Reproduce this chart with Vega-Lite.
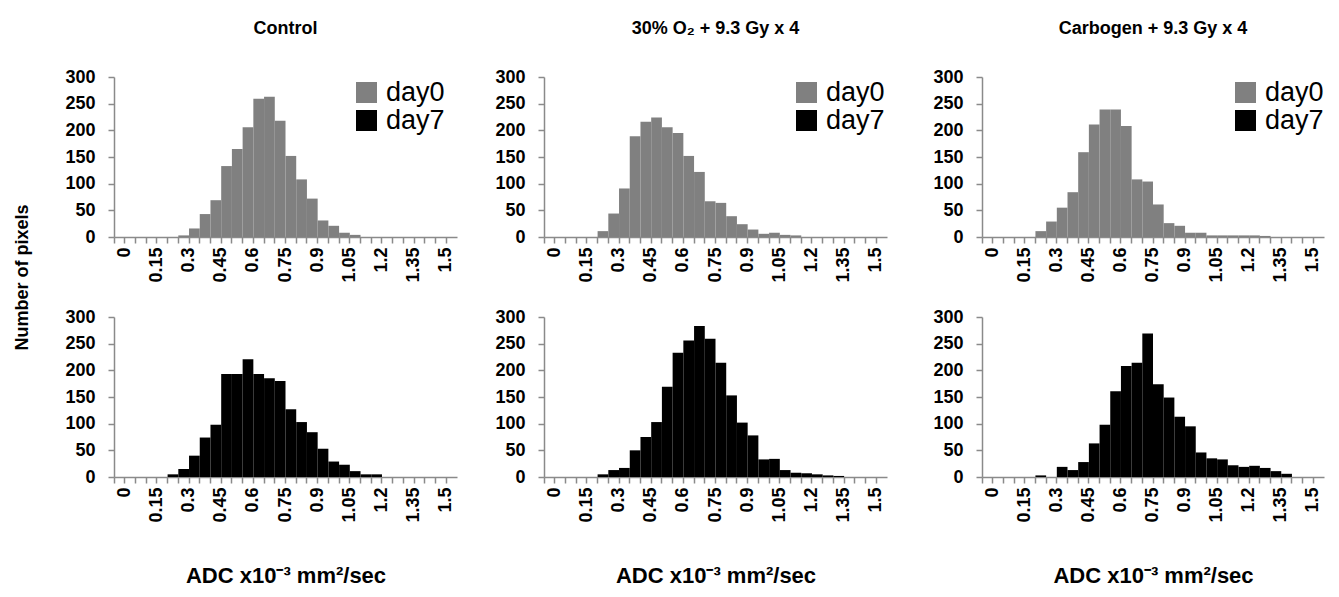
{
  "$schema": "https://vega.github.io/schema/vega-lite/v6.json",
  "padding": {"left": 13, "top": 20, "right": 5, "bottom": 2},
  "background": "white",
  "datasets": {
    "hist": [
      {"group": "Control", "day": "day0", "adc": 0.3, "pixels": 3},
      {"group": "Control", "day": "day0", "adc": 0.35, "pixels": 16},
      {"group": "Control", "day": "day0", "adc": 0.4, "pixels": 43},
      {"group": "Control", "day": "day0", "adc": 0.45, "pixels": 69},
      {"group": "Control", "day": "day0", "adc": 0.5, "pixels": 133},
      {"group": "Control", "day": "day0", "adc": 0.55, "pixels": 165},
      {"group": "Control", "day": "day0", "adc": 0.6, "pixels": 206},
      {"group": "Control", "day": "day0", "adc": 0.65, "pixels": 259},
      {"group": "Control", "day": "day0", "adc": 0.7, "pixels": 263},
      {"group": "Control", "day": "day0", "adc": 0.75, "pixels": 218},
      {"group": "Control", "day": "day0", "adc": 0.8, "pixels": 152},
      {"group": "Control", "day": "day0", "adc": 0.85, "pixels": 108},
      {"group": "Control", "day": "day0", "adc": 0.9, "pixels": 72},
      {"group": "Control", "day": "day0", "adc": 0.95, "pixels": 31},
      {"group": "Control", "day": "day0", "adc": 1, "pixels": 21},
      {"group": "Control", "day": "day0", "adc": 1.05, "pixels": 8},
      {"group": "Control", "day": "day0", "adc": 1.1, "pixels": 4},

      {"group": "O2", "day": "day0", "adc": 0.25, "pixels": 11},
      {"group": "O2", "day": "day0", "adc": 0.3, "pixels": 44},
      {"group": "O2", "day": "day0", "adc": 0.35, "pixels": 91},
      {"group": "O2", "day": "day0", "adc": 0.4, "pixels": 189},
      {"group": "O2", "day": "day0", "adc": 0.45, "pixels": 216},
      {"group": "O2", "day": "day0", "adc": 0.5, "pixels": 224},
      {"group": "O2", "day": "day0", "adc": 0.55, "pixels": 206},
      {"group": "O2", "day": "day0", "adc": 0.6, "pixels": 195},
      {"group": "O2", "day": "day0", "adc": 0.65, "pixels": 152},
      {"group": "O2", "day": "day0", "adc": 0.7, "pixels": 122},
      {"group": "O2", "day": "day0", "adc": 0.75, "pixels": 67},
      {"group": "O2", "day": "day0", "adc": 0.8, "pixels": 64},
      {"group": "O2", "day": "day0", "adc": 0.85, "pixels": 39},
      {"group": "O2", "day": "day0", "adc": 0.9, "pixels": 24},
      {"group": "O2", "day": "day0", "adc": 0.95, "pixels": 14},
      {"group": "O2", "day": "day0", "adc": 1, "pixels": 6},
      {"group": "O2", "day": "day0", "adc": 1.05, "pixels": 8},
      {"group": "O2", "day": "day0", "adc": 1.1, "pixels": 4},
      {"group": "O2", "day": "day0", "adc": 1.15, "pixels": 3},

      {"group": "Carbogen", "day": "day0", "adc": 0.25, "pixels": 11},
      {"group": "Carbogen", "day": "day0", "adc": 0.3, "pixels": 29},
      {"group": "Carbogen", "day": "day0", "adc": 0.35, "pixels": 55},
      {"group": "Carbogen", "day": "day0", "adc": 0.4, "pixels": 84},
      {"group": "Carbogen", "day": "day0", "adc": 0.45, "pixels": 159},
      {"group": "Carbogen", "day": "day0", "adc": 0.5, "pixels": 211},
      {"group": "Carbogen", "day": "day0", "adc": 0.55, "pixels": 239},
      {"group": "Carbogen", "day": "day0", "adc": 0.6, "pixels": 239},
      {"group": "Carbogen", "day": "day0", "adc": 0.65, "pixels": 208},
      {"group": "Carbogen", "day": "day0", "adc": 0.7, "pixels": 108},
      {"group": "Carbogen", "day": "day0", "adc": 0.75, "pixels": 104},
      {"group": "Carbogen", "day": "day0", "adc": 0.8, "pixels": 61},
      {"group": "Carbogen", "day": "day0", "adc": 0.85, "pixels": 26},
      {"group": "Carbogen", "day": "day0", "adc": 0.9, "pixels": 21},
      {"group": "Carbogen", "day": "day0", "adc": 0.95, "pixels": 8},
      {"group": "Carbogen", "day": "day0", "adc": 1, "pixels": 8},
      {"group": "Carbogen", "day": "day0", "adc": 1.05, "pixels": 3},
      {"group": "Carbogen", "day": "day0", "adc": 1.1, "pixels": 3},
      {"group": "Carbogen", "day": "day0", "adc": 1.15, "pixels": 3},
      {"group": "Carbogen", "day": "day0", "adc": 1.2, "pixels": 3},
      {"group": "Carbogen", "day": "day0", "adc": 1.25, "pixels": 3},
      {"group": "Carbogen", "day": "day0", "adc": 1.3, "pixels": 2},

      {"group": "Control", "day": "day7", "adc": 0.25, "pixels": 5},
      {"group": "Control", "day": "day7", "adc": 0.3, "pixels": 15},
      {"group": "Control", "day": "day7", "adc": 0.35, "pixels": 40},
      {"group": "Control", "day": "day7", "adc": 0.4, "pixels": 74},
      {"group": "Control", "day": "day7", "adc": 0.45, "pixels": 98},
      {"group": "Control", "day": "day7", "adc": 0.5, "pixels": 193},
      {"group": "Control", "day": "day7", "adc": 0.55, "pixels": 193},
      {"group": "Control", "day": "day7", "adc": 0.6, "pixels": 221},
      {"group": "Control", "day": "day7", "adc": 0.65, "pixels": 193},
      {"group": "Control", "day": "day7", "adc": 0.7, "pixels": 185},
      {"group": "Control", "day": "day7", "adc": 0.75, "pixels": 180},
      {"group": "Control", "day": "day7", "adc": 0.8, "pixels": 127},
      {"group": "Control", "day": "day7", "adc": 0.85, "pixels": 103},
      {"group": "Control", "day": "day7", "adc": 0.9, "pixels": 84},
      {"group": "Control", "day": "day7", "adc": 0.95, "pixels": 53},
      {"group": "Control", "day": "day7", "adc": 1, "pixels": 29},
      {"group": "Control", "day": "day7", "adc": 1.05, "pixels": 23},
      {"group": "Control", "day": "day7", "adc": 1.1, "pixels": 11},
      {"group": "Control", "day": "day7", "adc": 1.15, "pixels": 5},
      {"group": "Control", "day": "day7", "adc": 1.2, "pixels": 5},

      {"group": "O2", "day": "day7", "adc": 0.25, "pixels": 5},
      {"group": "O2", "day": "day7", "adc": 0.3, "pixels": 13},
      {"group": "O2", "day": "day7", "adc": 0.35, "pixels": 17},
      {"group": "O2", "day": "day7", "adc": 0.4, "pixels": 50},
      {"group": "O2", "day": "day7", "adc": 0.45, "pixels": 75},
      {"group": "O2", "day": "day7", "adc": 0.5, "pixels": 103},
      {"group": "O2", "day": "day7", "adc": 0.55, "pixels": 169},
      {"group": "O2", "day": "day7", "adc": 0.6, "pixels": 233},
      {"group": "O2", "day": "day7", "adc": 0.65, "pixels": 256},
      {"group": "O2", "day": "day7", "adc": 0.7, "pixels": 283},
      {"group": "O2", "day": "day7", "adc": 0.75, "pixels": 259},
      {"group": "O2", "day": "day7", "adc": 0.8, "pixels": 214},
      {"group": "O2", "day": "day7", "adc": 0.85, "pixels": 153},
      {"group": "O2", "day": "day7", "adc": 0.9, "pixels": 102},
      {"group": "O2", "day": "day7", "adc": 0.95, "pixels": 78},
      {"group": "O2", "day": "day7", "adc": 1, "pixels": 33},
      {"group": "O2", "day": "day7", "adc": 1.05, "pixels": 34},
      {"group": "O2", "day": "day7", "adc": 1.1, "pixels": 13},
      {"group": "O2", "day": "day7", "adc": 1.15, "pixels": 8},
      {"group": "O2", "day": "day7", "adc": 1.2, "pixels": 7},
      {"group": "O2", "day": "day7", "adc": 1.25, "pixels": 5},
      {"group": "O2", "day": "day7", "adc": 1.3, "pixels": 3},
      {"group": "O2", "day": "day7", "adc": 1.35, "pixels": 2},

      {"group": "Carbogen", "day": "day7", "adc": 0.25, "pixels": 3},
      {"group": "Carbogen", "day": "day7", "adc": 0.35, "pixels": 19},
      {"group": "Carbogen", "day": "day7", "adc": 0.4, "pixels": 13},
      {"group": "Carbogen", "day": "day7", "adc": 0.45, "pixels": 28},
      {"group": "Carbogen", "day": "day7", "adc": 0.5, "pixels": 63},
      {"group": "Carbogen", "day": "day7", "adc": 0.55, "pixels": 98},
      {"group": "Carbogen", "day": "day7", "adc": 0.6, "pixels": 161},
      {"group": "Carbogen", "day": "day7", "adc": 0.65, "pixels": 208},
      {"group": "Carbogen", "day": "day7", "adc": 0.7, "pixels": 214},
      {"group": "Carbogen", "day": "day7", "adc": 0.75, "pixels": 269},
      {"group": "Carbogen", "day": "day7", "adc": 0.8, "pixels": 174},
      {"group": "Carbogen", "day": "day7", "adc": 0.85, "pixels": 149},
      {"group": "Carbogen", "day": "day7", "adc": 0.9, "pixels": 113},
      {"group": "Carbogen", "day": "day7", "adc": 0.95, "pixels": 95},
      {"group": "Carbogen", "day": "day7", "adc": 1, "pixels": 46},
      {"group": "Carbogen", "day": "day7", "adc": 1.05, "pixels": 35},
      {"group": "Carbogen", "day": "day7", "adc": 1.1, "pixels": 33},
      {"group": "Carbogen", "day": "day7", "adc": 1.15, "pixels": 22},
      {"group": "Carbogen", "day": "day7", "adc": 1.2, "pixels": 19},
      {"group": "Carbogen", "day": "day7", "adc": 1.25, "pixels": 21},
      {"group": "Carbogen", "day": "day7", "adc": 1.3, "pixels": 17},
      {"group": "Carbogen", "day": "day7", "adc": 1.35, "pixels": 11},
      {"group": "Carbogen", "day": "day7", "adc": 1.4, "pixels": 6}
    ]
  },
  "data": {"name": "hist"},
  "spacing": 36,
  "hconcat": [
    {
      "spacing": 28,
      "hconcat": [
        {
          "bounds": "flush",
          "spacing": 80,
          "vconcat": [
            {
              "width": 343, "height": 160,
              "title": "Control",
              "transform": [{"filter": "datum.group === 'Control' && datum.day === 'day0'"}],
              "mark": {"type": "bar", "strokeWidth": 0},
              "encoding": {
                "x": {"field": "adc", "type": "ordinal",
                      "scale": {"domain": [0,0.05,0.1,0.15,0.2,0.25,0.3,0.35,0.4,0.45,0.5,0.55,0.6,0.65,0.7,0.75,0.8,0.85,0.9,0.95,1,1.05,1.1,1.15,1.2,1.25,1.3,1.35,1.4,1.45,1.5,1.55], "paddingInner": 0, "paddingOuter": 0},
                      "axis": {"title": null, "labelAngle": -90, "labelOverlap": false, "bandPosition": 0, "labelOffset": 5.4, "labelExpr": "round(datum.value*100) % 15 === 0 ? datum.label : ''"}},
                "y": {"field": "pixels", "type": "quantitative", "scale": {"domain": [0, 300]},
                      "axis": {"values": [0,50,100,150,200,250,300], "title": "Number of pixels", "titleY": 200, "titleX": -83, "titleFontSize": 18}},
                "color": {"field": "day", "type": "nominal", "scale": {"domain": ["day0", "day7"], "range": ["#808080", "#000000"]},
                          "legend": {"orient": "none", "legendX": 239, "legendY": 2}}
              }
            },
            {
              "width": 343, "height": 160,
              "transform": [{"filter": "datum.group === 'Control' && datum.day === 'day7'"}],
              "mark": {"type": "bar", "strokeWidth": 0},
              "encoding": {
                "x": {"field": "adc", "type": "ordinal",
                      "scale": {"domain": [0,0.05,0.1,0.15,0.2,0.25,0.3,0.35,0.4,0.45,0.5,0.55,0.6,0.65,0.7,0.75,0.8,0.85,0.9,0.95,1,1.05,1.1,1.15,1.2,1.25,1.3,1.35,1.4,1.45,1.5,1.55], "paddingInner": 0, "paddingOuter": 0},
                      "axis": {"title": "ADC x10⁻³ mm²/sec", "labelAngle": -90, "labelOverlap": false, "bandPosition": 0, "labelOffset": 5.4, "labelExpr": "round(datum.value*100) % 15 === 0 ? datum.label : ''"}},
                "y": {"field": "pixels", "type": "quantitative", "scale": {"domain": [0, 300]},
                      "axis": {"values": [0,50,100,150,200,250,300], "title": null}},
                "color": {"field": "day", "type": "nominal", "scale": {"domain": ["day0", "day7"], "range": ["#808080", "#000000"]}, "legend": null}
              }
            }
          ],
          "resolve": {"scale": {"color": "independent"}, "legend": {"color": "independent"}}
        },
        {
          "bounds": "flush",
          "spacing": 80,
          "vconcat": [
            {
              "width": 343, "height": 160,
              "title": "30% O₂ + 9.3 Gy x 4",
              "transform": [{"filter": "datum.group === 'O2' && datum.day === 'day0'"}],
              "mark": {"type": "bar", "strokeWidth": 0},
              "encoding": {
                "x": {"field": "adc", "type": "ordinal",
                      "scale": {"domain": [0,0.05,0.1,0.15,0.2,0.25,0.3,0.35,0.4,0.45,0.5,0.55,0.6,0.65,0.7,0.75,0.8,0.85,0.9,0.95,1,1.05,1.1,1.15,1.2,1.25,1.3,1.35,1.4,1.45,1.5,1.55], "paddingInner": 0, "paddingOuter": 0},
                      "axis": {"title": null, "labelAngle": -90, "labelOverlap": false, "bandPosition": 0, "labelOffset": 5.4, "labelExpr": "round(datum.value*100) % 15 === 0 ? datum.label : ''"}},
                "y": {"field": "pixels", "type": "quantitative", "scale": {"domain": [0, 300]},
                      "axis": {"values": [0,50,100,150,200,250,300], "title": null}},
                "color": {"field": "day", "type": "nominal", "scale": {"domain": ["day0", "day7"], "range": ["#808080", "#000000"]},
                          "legend": {"orient": "none", "legendX": 249, "legendY": 2}}
              }
            },
            {
              "width": 343, "height": 160,
              "transform": [{"filter": "datum.group === 'O2' && datum.day === 'day7'"}],
              "mark": {"type": "bar", "strokeWidth": 0},
              "encoding": {
                "x": {"field": "adc", "type": "ordinal",
                      "scale": {"domain": [0,0.05,0.1,0.15,0.2,0.25,0.3,0.35,0.4,0.45,0.5,0.55,0.6,0.65,0.7,0.75,0.8,0.85,0.9,0.95,1,1.05,1.1,1.15,1.2,1.25,1.3,1.35,1.4,1.45,1.5,1.55], "paddingInner": 0, "paddingOuter": 0},
                      "axis": {"title": "ADC x10⁻³ mm²/sec", "labelAngle": -90, "labelOverlap": false, "bandPosition": 0, "labelOffset": 5.4, "labelExpr": "round(datum.value*100) % 15 === 0 ? datum.label : ''"}},
                "y": {"field": "pixels", "type": "quantitative", "scale": {"domain": [0, 300]},
                      "axis": {"values": [0,50,100,150,200,250,300], "title": null}},
                "color": {"field": "day", "type": "nominal", "scale": {"domain": ["day0", "day7"], "range": ["#808080", "#000000"]}, "legend": null}
              }
            }
          ],
          "resolve": {"scale": {"color": "independent"}, "legend": {"color": "independent"}}
        }
      ],
      "resolve": {"scale": {"color": "independent"}, "legend": {"color": "independent"}}
    },
    {
      "bounds": "flush",
      "spacing": 80,
      "vconcat": [
        {
          "width": 342, "height": 160,
          "title": "Carbogen + 9.3 Gy x 4",
          "transform": [{"filter": "datum.group === 'Carbogen' && datum.day === 'day0'"}],
          "mark": {"type": "bar", "strokeWidth": 0},
          "encoding": {
            "x": {"field": "adc", "type": "ordinal",
                  "scale": {"domain": [0,0.05,0.1,0.15,0.2,0.25,0.3,0.35,0.4,0.45,0.5,0.55,0.6,0.65,0.7,0.75,0.8,0.85,0.9,0.95,1,1.05,1.1,1.15,1.2,1.25,1.3,1.35,1.4,1.45,1.5,1.55], "paddingInner": 0, "paddingOuter": 0},
                  "axis": {"title": null, "labelAngle": -90, "labelOverlap": false, "bandPosition": 0, "labelOffset": 5.4, "labelExpr": "round(datum.value*100) % 15 === 0 ? datum.label : ''"}},
            "y": {"field": "pixels", "type": "quantitative", "scale": {"domain": [0, 300]},
                  "axis": {"values": [0,50,100,150,200,250,300], "title": null}},
            "color": {"field": "day", "type": "nominal", "scale": {"domain": ["day0", "day7"], "range": ["#808080", "#000000"]},
                      "legend": {"orient": "none", "legendX": 250, "legendY": 2}}
          }
        },
        {
          "width": 342, "height": 160,
          "transform": [{"filter": "datum.group === 'Carbogen' && datum.day === 'day7'"}],
          "mark": {"type": "bar", "strokeWidth": 0},
          "encoding": {
            "x": {"field": "adc", "type": "ordinal",
                  "scale": {"domain": [0,0.05,0.1,0.15,0.2,0.25,0.3,0.35,0.4,0.45,0.5,0.55,0.6,0.65,0.7,0.75,0.8,0.85,0.9,0.95,1,1.05,1.1,1.15,1.2,1.25,1.3,1.35,1.4,1.45,1.5,1.55], "paddingInner": 0, "paddingOuter": 0},
                  "axis": {"title": "ADC x10⁻³ mm²/sec", "labelAngle": -90, "labelOverlap": false, "bandPosition": 0, "labelOffset": 5.4, "labelExpr": "round(datum.value*100) % 15 === 0 ? datum.label : ''"}},
            "y": {"field": "pixels", "type": "quantitative", "scale": {"domain": [0, 300]},
                  "axis": {"values": [0,50,100,150,200,250,300], "title": null}},
            "color": {"field": "day", "type": "nominal", "scale": {"domain": ["day0", "day7"], "range": ["#808080", "#000000"]}, "legend": null}
          }
        }
      ],
      "resolve": {"scale": {"color": "independent"}, "legend": {"color": "independent"}}
    }
  ],
  "resolve": {"scale": {"color": "independent"}, "legend": {"color": "independent"}},
  "config": {
    "font": "Liberation Sans",
    "view": {"stroke": null},
    "axis": {
      "grid": false,
      "domainColor": "#8a8a8a", "domainWidth": 1.5,
      "tickColor": "#8a8a8a", "tickWidth": 1.5, "tickSize": 6,
      "labelColor": "#000000", "labelFont": "Liberation Sans", "labelFontWeight": "bold", "labelFontSize": 18,
      "titleColor": "#000000", "titleFont": "Liberation Sans", "titleFontWeight": "bold", "titleFontSize": 22,
      "titlePadding": 43, "labelPadding": 4
    },
    "axisY": {"labelFontSize": 18, "labelPadding": 13},
    "title": {"font": "Liberation Sans", "fontSize": 18, "fontWeight": "bold", "color": "#000000", "offset": 30, "anchor": "middle"},
    "legend": {
      "title": null, "symbolType": "square", "symbolSize": 441, "symbolStrokeWidth": 0,
      "labelFont": "Liberation Sans", "labelFontSize": 27, "labelColor": "#000000",
      "rowPadding": 0, "padding": 0, "labelOffset": 6
    }
  }
}
